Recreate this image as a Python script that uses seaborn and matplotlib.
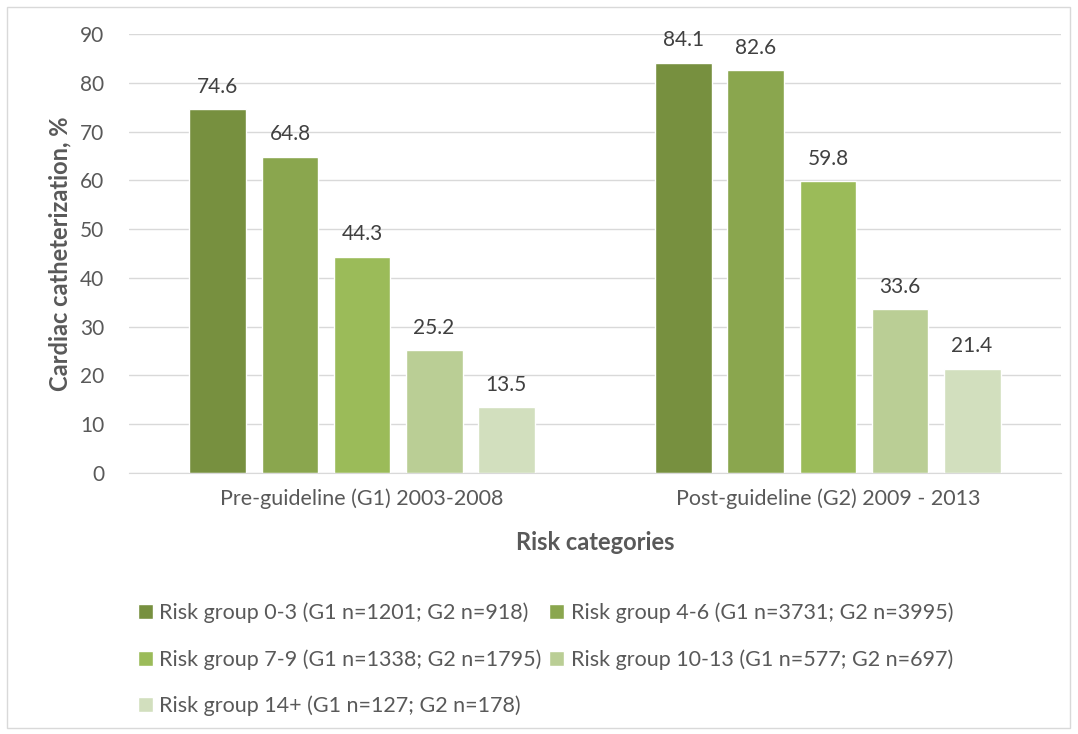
import pandas as pd
import matplotlib
matplotlib.use("Agg")
import matplotlib.pyplot as plt
from matplotlib.patches import Rectangle
import seaborn as sns

# Data
periods = ["Pre-guideline (G1) 2003-2008", "Post-guideline (G2) 2009 - 2013"]
groups = [
    "Risk group 0-3 (G1 n=1201; G2 n=918)",
    "Risk group 4-6 (G1 n=3731; G2 n=3995)",
    "Risk group 7-9 (G1 n=1338; G2 n=1795)",
    "Risk group 10-13 (G1 n=577; G2 n=697)",
    "Risk group 14+ (G1 n=127; G2 n=178)",
]
g1_values = [74.6, 64.8, 44.3, 25.2, 13.5]
g2_values = [84.1, 82.6, 59.8, 33.6, 21.4]
colors = ["#77903F", "#8AA64E", "#9BBB59", "#BACE95", "#D2DFBE"]

# Build long table
rows = []
for grp, v1, v2 in zip(groups, g1_values, g2_values):
    rows.append({"period": periods[0], "group": grp, "value": v1})
    rows.append({"period": periods[1], "group": grp, "value": v2})
df = pd.DataFrame(rows)

sns.set_style("white")
plt.rcParams["font.family"] = ["Lato", "DejaVu Sans"]

fig = plt.figure(figsize=(10.78, 7.34), dpi=100)
ax = fig.add_axes([0.1197, 0.3556, 0.8645, 0.5981])

sns.barplot(data=df, x="period", y="value", hue="group", hue_order=groups,
            order=periods, palette=colors, width=0.773, gap=0.21,
            saturation=1, ax=ax, legend=True)

# Value labels
for container in ax.containers:
    ax.bar_label(container, fmt="%.1f", padding=9, fontsize=15, color="#404040")

ax.set_ylim(0, 90)
ax.set_yticks(range(0, 91, 10))
ax.set_xlim(-0.5, 1.5)
ax.yaxis.grid(True, color="#D9D9D9", linewidth=1)
ax.set_axisbelow(True)
for side in ["top", "right", "left"]:
    ax.spines[side].set_visible(False)
ax.spines["bottom"].set_color("#D9D9D9")
ax.tick_params(axis="y", length=0, labelsize=15, colors="#595959", pad=18)
ax.tick_params(axis="x", length=0, labelsize=15.5, colors="#595959", pad=11)

ax.set_ylabel("Cardiac catheterization, %", fontsize=17, fontweight="bold",
              color="#595959", labelpad=6)
ax.set_xlabel("Risk categories", fontsize=17, fontweight="bold",
              color="#595959", labelpad=16)

# Legend: row-wise order in two columns
handles, labels = ax.get_legend_handles_labels()
ax.legend_.remove()
order = [0, 2, 4, 1, 3]
fig.legend([handles[i] for i in order], [labels[i] for i in order],
           loc="upper left", bbox_to_anchor=(0.11, 0.205), ncol=2,
           frameon=False, fontsize=15.5, labelcolor="#595959",
           handlelength=0.7, handleheight=0.7, handletextpad=0.3,
           columnspacing=0.35, labelspacing=1.2)

# Outer chart frame
fig.patches.append(Rectangle((7 / 1078, 6 / 734), 1063 / 1078, 721 / 734,
                             transform=fig.transFigure, fill=False,
                             edgecolor="#D9D9D9", linewidth=1))

fig.savefig("out.png", dpi=100)
